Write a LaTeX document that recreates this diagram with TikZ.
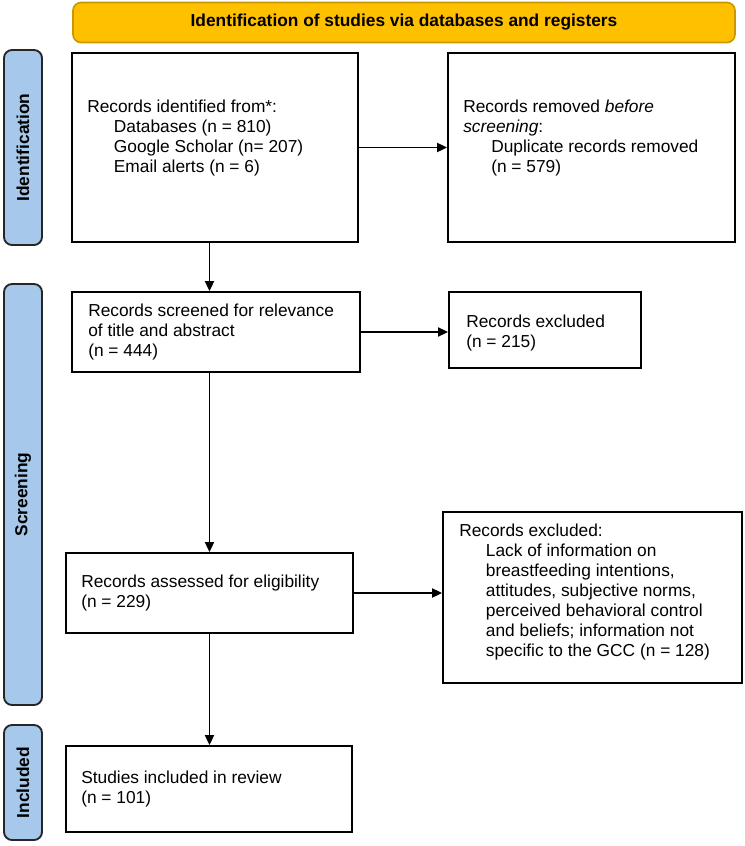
\documentclass[tikz,border=0pt]{standalone}
\usepackage{fontspec}
\setmainfont{Liberation Sans}
\usetikzlibrary{arrows.meta}
\definecolor{hdrfill}{HTML}{FFC000}
\definecolor{hdrdraw}{HTML}{C99700}
\definecolor{sidefill}{HTML}{A5C8EB}
\begin{document}
\begin{tikzpicture}[x=0.75pt,y=-0.75pt,
  box/.style={draw=black,line width=1.5pt,rectangle,inner sep=0pt},
  txt/.style={align=left,inner sep=0pt,font=\fontsize{13}{15}\selectfont,anchor=west},
  side/.style={draw=black!85,fill=sidefill,line width=1.4pt,rounded corners=6pt,inner sep=0pt,minimum width=28.5pt},
  sidetxt/.style={rotate=90,font=\bfseries\fontsize{13}{15}\selectfont,inner sep=0pt},
  arr/.style={line width=0.8pt,-{Triangle[length=7.5pt,width=7pt]}}]
\useasboundingbox (0,0) rectangle (744,846);
% header
\node[draw=hdrdraw,fill=hdrfill,line width=1.2pt,rounded corners=6pt,minimum width=496.5pt,minimum height=30pt,inner sep=0pt,font=\bfseries\fontsize{13}{15}\selectfont] (hdr) at (404,22.5) {Identification of studies via databases and registers};
% side labels
\node[side,minimum height=146.25pt] (sid) at (23,147.5) {};
\node[sidetxt] (sidt) at (sid.center) {Identification};
\node[side,minimum height=315.75pt] (sscr) at (23,494.5) {};
\node[sidetxt] (sscrt) at (sscr.center) {Screening};
\node[side,minimum height=86.25pt] (sinc) at (23,782.5) {};
\node[sidetxt] (sinct) at (sinc.center) {Included};
% boxes
\node[box,minimum width=214.5pt,minimum height=141.75pt] (A) at (215,147.5) {};
\node[box,minimum width=215.25pt,minimum height=141.75pt] (B) at (591.5,147.5) {};
\node[box,minimum width=216pt,minimum height=60pt] (C) at (216,332) {};
\node[box,minimum width=144pt,minimum height=57pt] (D) at (545,330) {};
\node[box,minimum width=215.25pt,minimum height=60pt] (E) at (209.5,593) {};
\node[box,minimum width=224.25pt,minimum height=128.25pt] (F) at (592.5,597.5) {};
\node[box,minimum width=214.5pt,minimum height=64.5pt] (G) at (209,789) {};
% texts
\node[txt] (At) at (87,138.5) {Records identified from*:\\
\hspace*{20pt}Databases (n = 810)\\
\hspace*{20pt}Google Scholar (n= 207)\\
\hspace*{20pt}Email alerts (n = 6)};
\node[txt] (Bt) at (463,138) {Records removed \textit{before}\\
\textit{screening}:\\
\hspace*{21pt}Duplicate records removed\\
\hspace*{21pt}(n = 579)};
\node[txt] (Ct) at (88,332) {Records screened for relevance\\
of title and abstract\\
(n = 444)};
\node[txt] (Dt) at (466,333) {Records excluded\\
(n = 215)};
\node[txt] (Et) at (81,593) {Records assessed for eligibility\\
(n = 229)};
\node[txt] (Ft) at (459,592) {Records excluded:\\
\hspace*{20pt}Lack of information on\\
\hspace*{20pt}breastfeeding intentions,\\
\hspace*{20pt}attitudes, subjective norms,\\
\hspace*{20pt}perceived behavioral control\\
\hspace*{20pt}and beliefs; information not\\
\hspace*{20pt}specific to the GCC (n = 128)};
\node[txt] (Gt) at (81,789.5) {Studies included in review\\
(n = 101)};
% arrows
\draw[arr] (A.south -| E.center) -- (C.north -| E.center);
\draw[arr] (A.east) -- (B.west);
\draw[arr] (C.east) -- (C.east -| D.west);
\draw[arr] (C.south -| E.center) -- (E.north);
\draw[arr] (E.east) -- (E.east -| F.west);
\draw[arr] (E.south) -- (G.north -| E.center);
\end{tikzpicture}
\end{document}
